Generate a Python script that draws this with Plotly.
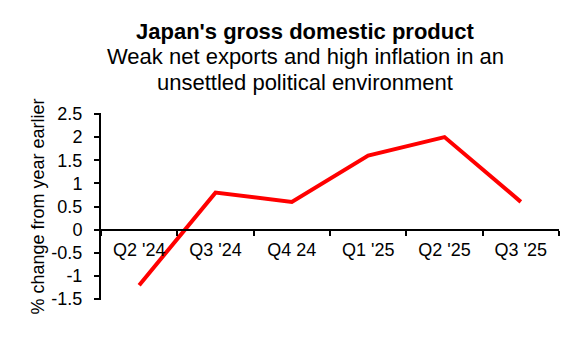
import plotly.graph_objects as go

categories = ["Q2 '24", "Q3 '24", "Q4 24", "Q1 '25", "Q2 '25", "Q3 '25"]
gdp_change = [-1.2, 0.8, 0.6, 1.6, 2.0, 0.6]
y_tickvals = [2.5, 2, 1.5, 1, 0.5, 0, -0.5, -1, -1.5]
y_ticktext = ["2.5", "2", "1.5", "1", "0.5", "0", "-0.5", "-1", "-1.5"]

title_text = "<b>Japan's gross domestic product</b>"
subtitle_lines = ["Weak net exports and high inflation in an", "unsettled political environment"]
y_title = "% change from year earlier"

FONT = "Liberation Sans, Arial, sans-serif"
ymin, ymax = -1.52, 2.52
OFF = 8  # page body margin offset
W, H = 580 - OFF, 360 - OFF
L, R, T, B = 101 - OFF, 21, 113 - OFF, 60
PW, PH = W - L - R, H - T - B


def px_x(x):
    return (x - OFF - L) / PW


def px_y(y):
    return (H - B - (y - OFF)) / PH


fig = go.Figure()
fig.add_trace(go.Scatter(
    x=categories, y=gdp_change, mode="lines",
    line=dict(color="#FF0000", width=4),
    hoverinfo="skip", showlegend=False,
))

annotations = [
    dict(text=title_text, xref="paper", yref="paper",
         x=px_x(305), y=px_y(31), xanchor="center", yanchor="middle",
         showarrow=False, font=dict(size=22, family=FONT, color="black")),
]
for i, line in enumerate(subtitle_lines):
    annotations.append(dict(
        text=line, xref="paper", yref="paper",
        x=px_x(305), y=px_y(57 + 25 * i), xanchor="center", yanchor="middle",
        showarrow=False, font=dict(size=22, family=FONT, color="black")))

fig.update_layout(
    width=W, height=H,
    margin=dict(l=L, r=R, t=T, b=B),
    paper_bgcolor="white", plot_bgcolor="white",
    font=dict(family=FONT, color="black", size=18),
    xaxis=dict(
        type="category", anchor="free", automargin=False,
        position=(0 - ymin) / (ymax - ymin),
        showline=True, linecolor="black", linewidth=2,
        ticks="outside", tickson="boundaries", ticklen=5, tickcolor="black", tickwidth=1.5,
        showgrid=False, zeroline=False,
        tickfont=dict(size=18, family=FONT), ticklabelstandoff=4,
        range=[-0.5, 5.5],
    ),
    yaxis=dict(
        range=[ymin, ymax], automargin=False,
        tickvals=y_tickvals, ticktext=y_ticktext,
        showline=True, linecolor="black", linewidth=2,
        ticks="outside", ticklen=5, tickcolor="black", tickwidth=1.5,
        showgrid=False, zeroline=False,
        tickfont=dict(size=18, family=FONT), ticklabelstandoff=8,
        title=dict(text=y_title, font=dict(size=18, family=FONT), standoff=2),
    ),
    annotations=annotations,
)

fig.write_html("out.html")
